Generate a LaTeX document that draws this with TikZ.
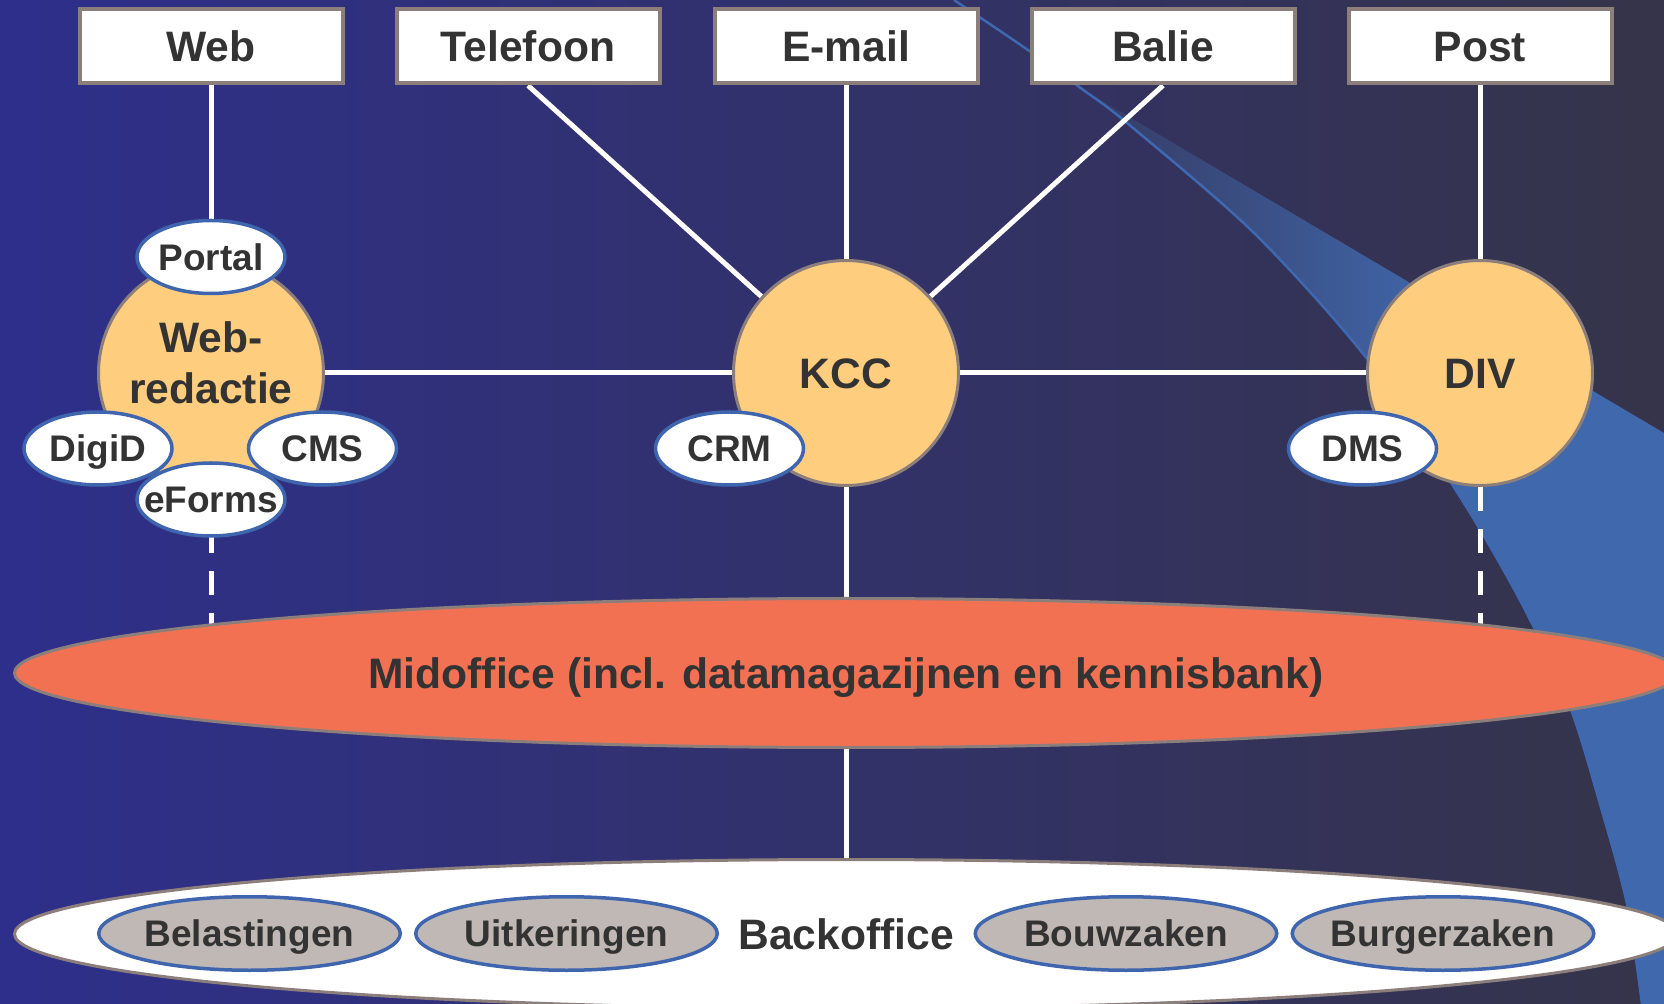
\documentclass[tikz,border=0pt]{standalone}
\usepackage{fontspec}
\setmainfont{Liberation Sans}
\usetikzlibrary{shapes.geometric}
\pgfdeclarelayer{bg}
\pgfsetlayers{bg,main}
\definecolor{bgL}{HTML}{2E2F8B}
\definecolor{bgM}{HTML}{313178}
\definecolor{bgR}{HTML}{35344A}
\definecolor{swdark}{HTML}{363A62}
\definecolor{swblue}{HTML}{4068AC}
\definecolor{swline}{HTML}{3F68B2}
\definecolor{boxgrey}{HTML}{8C7F7B}
\definecolor{hubfill}{HTML}{FECD7D}
\definecolor{toolblue}{HTML}{3E65AE}
\definecolor{midfill}{HTML}{F37153}
\definecolor{deptfill}{HTML}{BFB8B5}
\definecolor{textc}{HTML}{333333}
\newcommand\zb[1]{\makebox[0pt]{#1}}
\tikzset{
  bigfont/.style={font=\bfseries\fontsize{21.3}{25.5}\selectfont, text=textc},
  smallfont/.style={font=\bfseries\fontsize{18.5}{21}\selectfont, text=textc},
  chan/.style={rectangle, draw=boxgrey, line width=2pt, fill=white,
    minimum width=131.5pt, minimum height=37pt, inner sep=0pt, bigfont,
    text height=15.2pt, text depth=0pt},
  hub/.style={circle, draw=boxgrey, line width=1.5pt, fill=hubfill,
    minimum size=112.5pt, inner sep=0pt, bigfont, text height=15.2pt, text depth=0pt},
  tool/.style={ellipse, draw=toolblue, line width=1.75pt, fill=white,
    minimum width=74pt, minimum height=36.5pt, inner sep=0pt, smallfont,
    text height=13.2pt, text depth=0pt},
  office/.style={ellipse, draw=boxgrey, line width=1.5pt,
    minimum width=831.5pt, minimum height=74.5pt, inner sep=0pt, bigfont,
    text height=15.2pt, text depth=0pt},
  dept/.style={ellipse, draw=toolblue, line width=1.75pt, fill=deptfill,
    minimum width=150.75pt, minimum height=36.75pt, inner sep=0pt, smallfont,
    text height=13.2pt, text depth=0pt},
  link/.style={draw=white, line width=2.5pt},
  dlink/.style={link, dash pattern=on 12pt off 9pt}
}
\begin{document}
\begin{tikzpicture}[x=0.5pt,y=-0.5pt]
\useasboundingbox (0,0) rectangle (1664,1004);
\begin{pgfonlayer}{bg}
  \shade[left color=bgL, middle color=bgM, right color=bgR] (0,0) rectangle (1664,1004);
  \begin{scope}
    \clip (1082,89) -- (1664,433) -- (1664,1004) -- (1642,1004)
      -- plot[smooth] coordinates {(1642,1004) (1627,904) (1600,804) (1569,704) (1522,604) (1462,500) (1368,360) (1254,233) (1127,123) (1082,89)} -- cycle;
    \shade[left color=swdark, right color=swblue] (1082,0) rectangle (1450,1004);
    \fill[swblue] (1450,0) rectangle (1664,1004);
  \end{scope}
  \draw[swline, line width=1.25pt] plot[smooth] coordinates {(954,0) (1028,50) (1082,89) (1127,123) (1254,233) (1368,360) (1462,500) (1522,604) (1569,704) (1600,804) (1627,904) (1642,1004)};
\end{pgfonlayer}

% channel boxes
\node[chan] (web)   at (211,46.5)  {Web};
\node[chan] (tel)   at (528,46.5)  {Telefoon};
\node[chan] (email) at (846,46.5)  {E-mail};
\node[chan] (balie) at (1163,46.5) {Balie};
\node[chan] (post)  at (1480,46.5) {Post};

% hubs
\node[hub] (webred) at (211,373) {};
\node[bigfont, align=center] (webredtxt) at (211,363) {Web-\\redactie};
\node[hub] (kcc) at (846,373) {KCC};
\node[hub] (div) at (1480,373) {DIV};

% tools
\node[tool] (portal) at (211,257)   {\zb{Portal}};
\node[tool] (digid)  at (98,448.5)  {\zb{DigiD}};
\node[tool] (cms)    at (322.5,448.5) {\zb{CMS}};
\node[tool] (eforms) at (211,499.5) {\zb{eForms}};
\node[tool] (crm)    at (729.5,448.5) {\zb{CRM}};
\node[tool] (dms)    at (1362.5,448.5) {\zb{DMS}};

% offices
\node[office, fill=midfill] (mid) at (846,673) {Midoffice (incl. datamagazijnen en kennisbank)};
\node[office, fill=white] (back) at (846,934) {Backoffice};
\node[dept] (bel) at (249.5,933.5) {\zb{Belastingen}};
\node[dept] (uit) at (566.5,933.5) {\zb{Uitkeringen}};
\node[dept] (bou) at (1126,933.5)  {\zb{Bouwzaken}};
\node[dept] (bur) at (1443,933.5)  {\zb{Burgerzaken}};

\begin{pgfonlayer}{bg}
  \draw[link] (web) -- (portal);
  \draw[link] (tel.south) -- (kcc);
  \draw[link] (email) -- (kcc);
  \draw[link] (balie.south) -- (kcc);
  \draw[link] (post) -- (div);
  \draw[link] (webred) -- (kcc);
  \draw[link] (kcc) -- (div);
  \draw[link] (kcc) -- (mid);
  \draw[link] (mid) -- (back);
  \draw[dlink] (webred.south) -- (webred.south |- mid.center);
  \draw[dlink] (div.south) -- (div.south |- mid.center);
\end{pgfonlayer}
\end{tikzpicture}
\end{document}
